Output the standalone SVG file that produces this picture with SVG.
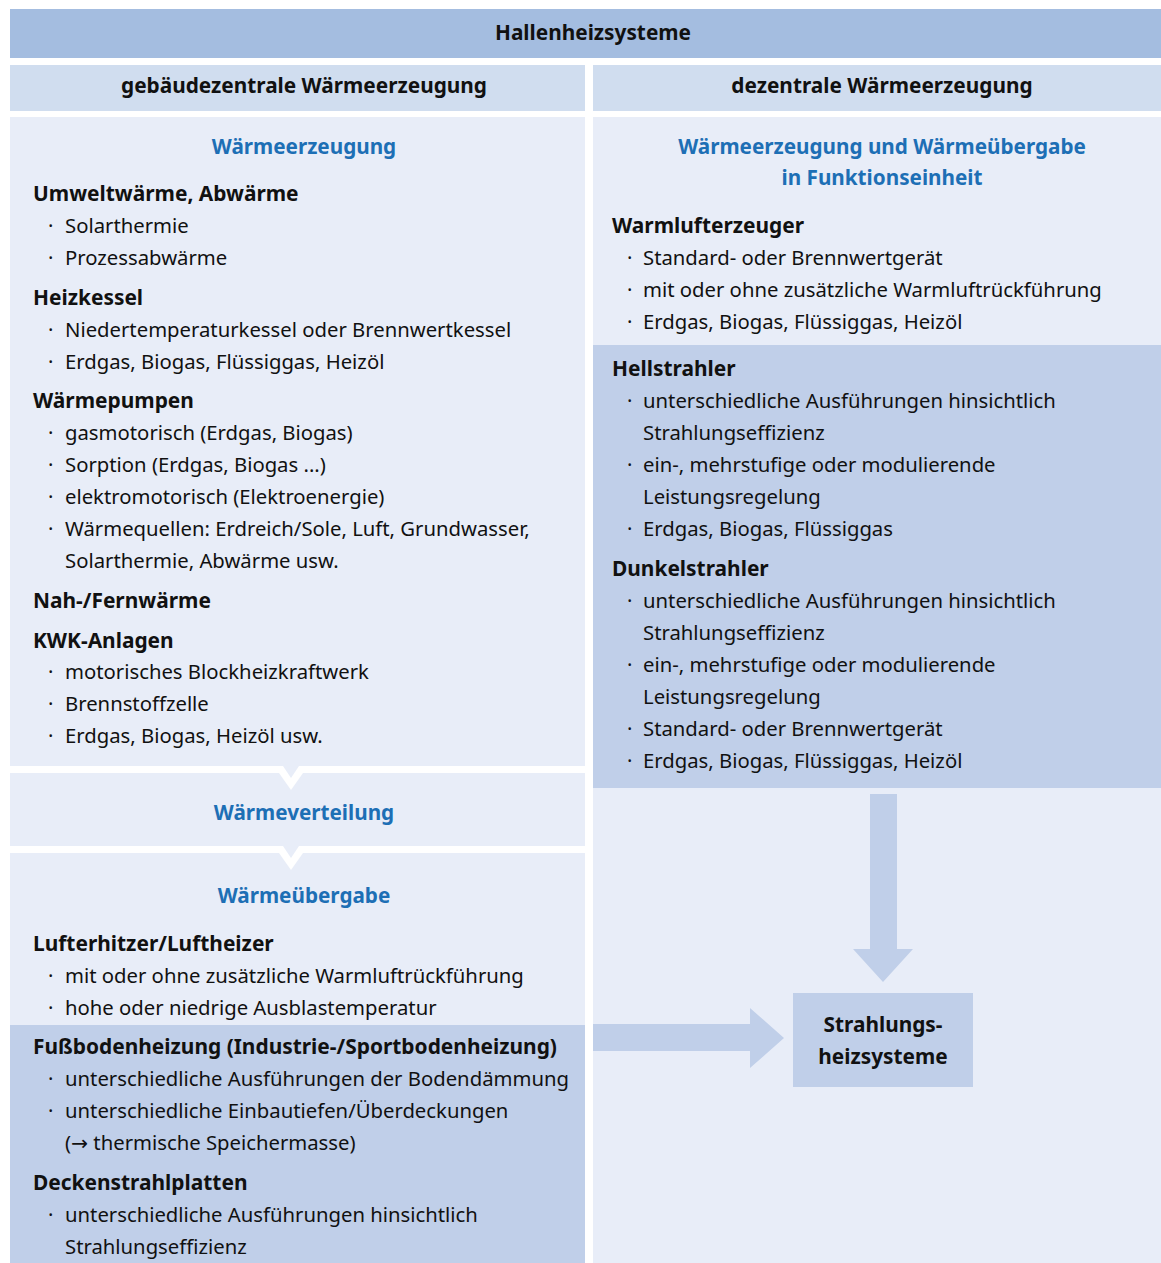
<svg xmlns="http://www.w3.org/2000/svg" width="1161" height="1263" viewBox="0 0 1161 1263">
<style>
text{font-family:"Noto Sans","Open Sans","DejaVu Sans",sans-serif;font-size:20.3px;fill:#111;}
.h{font-weight:700;font-size:20.9px;}
.t{font-weight:700;font-size:20.7px;fill:#1d6fb5;text-anchor:middle;}
.c{text-anchor:middle;font-weight:700;font-size:20.8px;}
.hdr{fill:#a4bde0;}
.sub{fill:#d0ddef;}
.lt{fill:#e8edf8;}
.dk{fill:#c0cfe9;}
.w{fill:#ffffff;}
</style>
<rect x="0" y="0" width="1161" height="1263" fill="#ffffff"/>
<g id="header">
<rect class="hdr" x="10" y="9" width="1151" height="49"/>
<text class="c" x="593" y="40">Hallenheizsysteme</text>
</g>
<g id="sub-left">
<rect class="sub" x="10" y="65" width="575" height="46"/>
<text class="c" x="304" y="93">gebäudezentrale Wärmeerzeugung</text>
</g>
<g id="sub-right">
<rect class="sub" x="593" y="65" width="568" height="46"/>
<text class="c" x="882" y="93">dezentrale Wärmeerzeugung</text>
</g>
<g id="left-waermeerzeugung">
<rect class="lt" x="10" y="117" width="575" height="649"/>
<text class="t" x="304" y="154">Wärmeerzeugung</text>
<text class="h" x="33" y="201">Umweltwärme, Abwärme</text>
<text x="48" y="233">·</text><text x="65" y="233">Solarthermie</text>
<text x="48" y="265">·</text><text x="65" y="265">Prozessabwärme</text>
<text class="h" x="33" y="305">Heizkessel</text>
<text x="48" y="337">·</text><text x="65" y="337">Niedertemperaturkessel oder Brennwertkessel</text>
<text x="48" y="369">·</text><text x="65" y="369">Erdgas, Biogas, Flüssiggas, Heizöl</text>
<text class="h" x="33" y="408">Wärmepumpen</text>
<text x="48" y="440">·</text><text x="65" y="440">gasmotorisch (Erdgas, Biogas)</text>
<text x="48" y="472">·</text><text x="65" y="472">Sorption (Erdgas, Biogas ...)</text>
<text x="48" y="504">·</text><text x="65" y="504">elektromotorisch (Elektroenergie)</text>
<text x="48" y="536">·</text><text x="65" y="536">Wärmequellen: Erdreich/Sole, Luft, Grundwasser,</text>
<text x="65" y="568">Solarthermie, Abwärme usw.</text>
<text class="h" x="33" y="608">Nah-/Fernwärme</text>
<text class="h" x="33" y="648">KWK-Anlagen</text>
<text x="48" y="679">·</text><text x="65" y="679">motorisches Blockheizkraftwerk</text>
<text x="48" y="711">·</text><text x="65" y="711">Brennstoffzelle</text>
<text x="48" y="743">·</text><text x="65" y="743">Erdgas, Biogas, Heizöl usw.</text>
</g>
<g id="left-waermeverteilung">
<rect class="lt" x="10" y="773" width="575" height="73"/>
<polygon class="w" points="274,766 308,766 291,790"/>
<polygon class="lt" points="283,766 299,766 291,778"/>
<text class="t" x="304" y="820">Wärmeverteilung</text>
</g>
<g id="left-waermeuebergabe">
<rect class="lt" x="10" y="853" width="575" height="172"/>
<rect class="dk" x="10" y="1025" width="575" height="238"/>
<polygon class="w" points="274,846 308,846 291,870"/>
<polygon class="lt" points="283,846 299,846 291,858"/>
<text class="t" x="304" y="903">Wärmeübergabe</text>
<text class="h" x="33" y="951">Lufterhitzer/Luftheizer</text>
<text x="48" y="983">·</text><text x="65" y="983">mit oder ohne zusätzliche Warmluftrückführung</text>
<text x="48" y="1015">·</text><text x="65" y="1015">hohe oder niedrige Ausblastemperatur</text>
<text class="h" x="33" y="1054">Fußbodenheizung (Industrie-/Sportbodenheizung)</text>
<text x="48" y="1086">·</text><text x="65" y="1086">unterschiedliche Ausführungen der Bodendämmung</text>
<text x="48" y="1118">·</text><text x="65" y="1118">unterschiedliche Einbautiefen/Überdeckungen</text>
<text x="65" y="1150">(→ thermische Speichermasse)</text>
<text class="h" x="33" y="1190">Deckenstrahlplatten</text>
<text x="48" y="1222">·</text><text x="65" y="1222">unterschiedliche Ausführungen hinsichtlich</text>
<text x="65" y="1254">Strahlungseffizienz</text>
</g>
<g id="right-body">
<rect class="lt" x="593" y="117" width="568" height="1146"/>
<rect class="dk" x="593" y="345" width="568" height="443"/>
<text class="t" x="882" y="154">Wärmeerzeugung und Wärmeübergabe</text>
<text class="t" x="882" y="185">in Funktionseinheit</text>
<text class="h" x="612" y="233">Warmlufterzeuger</text>
<text x="627" y="265">·</text><text x="643" y="265">Standard- oder Brennwertgerät</text>
<text x="627" y="297">·</text><text x="643" y="297">mit oder ohne zusätzliche Warmluftrückführung</text>
<text x="627" y="329">·</text><text x="643" y="329">Erdgas, Biogas, Flüssiggas, Heizöl</text>
<text class="h" x="612" y="376">Hellstrahler</text>
<text x="627" y="408">·</text><text x="643" y="408">unterschiedliche Ausführungen hinsichtlich</text>
<text x="643" y="440">Strahlungseffizienz</text>
<text x="627" y="472">·</text><text x="643" y="472">ein-, mehrstufige oder modulierende</text>
<text x="643" y="504">Leistungsregelung</text>
<text x="627" y="536">·</text><text x="643" y="536">Erdgas, Biogas, Flüssiggas</text>
<text class="h" x="612" y="576">Dunkelstrahler</text>
<text x="627" y="608">·</text><text x="643" y="608">unterschiedliche Ausführungen hinsichtlich</text>
<text x="643" y="640">Strahlungseffizienz</text>
<text x="627" y="672">·</text><text x="643" y="672">ein-, mehrstufige oder modulierende</text>
<text x="643" y="704">Leistungsregelung</text>
<text x="627" y="736">·</text><text x="643" y="736">Standard- oder Brennwertgerät</text>
<text x="627" y="768">·</text><text x="643" y="768">Erdgas, Biogas, Flüssiggas, Heizöl</text>
</g>
<g id="connectors">
<polygon class="dk" points="870,794 897,794 897,949 913,949 883,982 853,949 870,949"/>
<polygon class="dk" points="593,1024 750,1024 750,1008 784,1038 750,1068 750,1051 593,1051"/>
</g>
<g id="strahlungsheizsysteme">
<rect class="dk" x="793" y="993" width="180" height="94"/>
<text class="c" x="883" y="1032">Strahlungs-</text>
<text class="c" x="883" y="1064">heizsysteme</text>
</g>
</svg>
